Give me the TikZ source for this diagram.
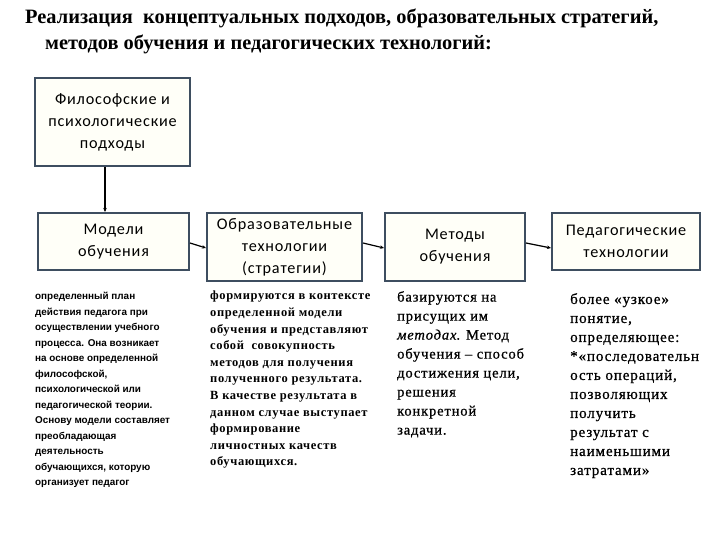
\documentclass[tikz,border=0pt]{standalone}
\usepackage{fontspec}
\setmainfont{Liberation Serif}
\newfontfamily\boxfont[LetterSpace=5]{Carlito}
\newfontfamily\smallsans{Liberation Sans}
\newfontfamily\serifwide[LetterSpace=6,FakeBold=0.8]{Liberation Serif}
\newfontfamily\serifbold[LetterSpace=5]{Liberation Serif}
\usetikzlibrary{arrows.meta}
\definecolor{boxline}{RGB}{62,78,96}
\definecolor{boxfill}{RGB}{255,255,248}
\begin{document}
\begin{tikzpicture}[x=1pt,y=-1pt,
  hbox/.style={draw=boxline,line width=2pt,fill=boxfill,align=center,inner sep=0pt,
    font=\boxfont\fontsize{16.2}{22}\selectfont},
  conn/.style={line width=1.2pt,-{Stealth[length=4pt,width=3.5pt]}},
  desc/.style={anchor=north west,align=left,inner sep=0pt}]
\useasboundingbox (0,0) rectangle (720,540);
\node[anchor=west,inner sep=0pt,font=\bfseries\fontsize{20.4}{22}\selectfont] (title1) at (25,18)
  {Реализация\ \ концептуальных подходов, образовательных стратегий,};
\node[anchor=west,inner sep=0pt,font=\bfseries\fontsize{20.4}{22}\selectfont] (title2) at (45,44)
  {методов обучения и педагогических технологий:};
\node[hbox,minimum width=155,minimum height=88] (b1) at (112.5,122)
  {Философские и\\психологические\\подходы};
\node[hbox,minimum width=151,minimum height=57] (b2) at (113.5,241.5)
  {Модели\\обучения};
\node[hbox,minimum width=155,minimum height=68] (b3) at (284.5,247)
  {Образовательные\\технологии\\(стратегии)};
\node[hbox,minimum width=140,minimum height=68] (b4) at (455,247)
  {Методы\\обучения};
\node[hbox,minimum width=148,minimum height=57] (b5) at (626,241.5)
  {Педагогические\\технологии};
\draw[conn] ([xshift=-7.5pt]b1.south) -- ([xshift=-8.5pt]b2.north);
\draw[conn] ([yshift=-1.5pt]b2.east) -- ([yshift=-1pt]b3.west);
\draw[conn] ([yshift=4pt]b3.east) -- ([yshift=-1pt]b4.west);
\draw[conn] ([yshift=4pt]b4.east) -- ([yshift=-6.5pt]b5.west);
\node[desc,font=\smallsans\bfseries\fontsize{9.9}{15.5}\selectfont] (t1) at (35,292)
  {определенный план\\действия педагога при\\осуществлении учебного\\процесса. Она возникает\\на основе определенной\\философской,\\психологической или\\педагогической теории.\\Основу модели составляет\\преобладающая\\деятельность\\обучающихся, которую\\организует педагог};
\node[desc,font=\serifbold\bfseries\fontsize{12.5}{16.6}\selectfont] (t2) at (210,291)
  {формируются в контексте\\определенной модели\\обучения и представляют\\собой\ \ совокупность\\методов для получения\\полученного результата.\\В качестве результата в\\данном случае выступает\\формирование\\личностных качеств\\обучающихся.};
\node[desc,font=\serifwide\fontsize{14.5}{19}\selectfont] (t3) at (397,291)
  {базируются на\\присущих им\\\textit{методах}. Метод\\обучения – способ\\достижения цели,\\решения\\конкретной\\задачи.};
\node[desc,font=\serifwide\fontsize{15}{19}\selectfont] (t4) at (570,293)
  {более «узкое»\\понятие,\\определяющее:\\*«последовательн\\ость операций,\\позволяющих\\получить\\результат с\\наименьшими\\затратами»};
\end{tikzpicture}
\end{document}
